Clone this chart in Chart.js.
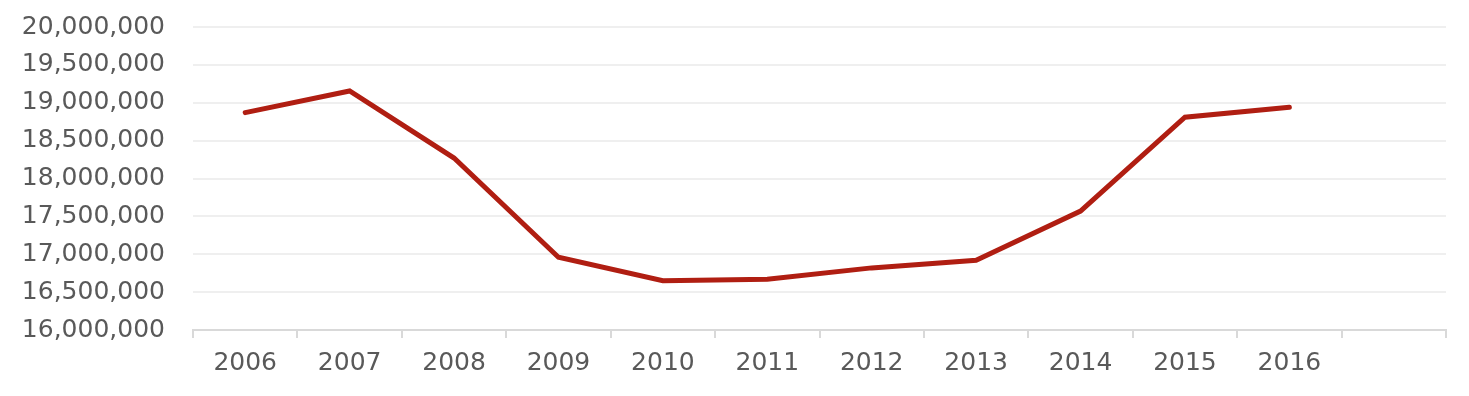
<!DOCTYPE html>
<html>
<head>
<meta charset="utf-8">
<script src="https://cdn.jsdelivr.net/npm/chart.js@4/dist/chart.umd.min.js"></script>
<style>
  html, body { margin: 0; padding: 0; background: #fff; }
  #wrap { width: 1469px; height: 396px; }
</style>
</head>
<body>
<div id="wrap"><canvas id="mycanvas"></canvas></div>
<script>
// years shown on the x axis (last slot stays empty, as in the original)
var years = ['2006', '2007', '2008', '2009', '2010', '2011', '2012', '2013', '2014', '2015', '2016', ''];
var values = [18870000, 19155000, 18270000, 16960000, 16650000, 16670000, 16820000, 16920000, 17570000, 18810000, 18940000];
var yMin = 16000000;
var yMax = 20000000;
var yStep = 500000;

var textColor = '#595959';
var labelFont = { family: 'DejaVu Sans', size: 25 };

var ctx = document.getElementById('mycanvas').getContext('2d');
var chart = new Chart(ctx, {
    type: 'line',
    data: {
        labels: years,
        datasets: [{
            label: 'Total',
            data: values,
            borderColor: '#b01e12',
            borderWidth: 5,
            borderCapStyle: 'round',
            pointRadius: 0,
            tension: 0,
            fill: false
        }]
    },
    options: {
        responsive: true,
        maintainAspectRatio: false,
        animation: false,
        layout: { padding: { left: 0, right: 23, top: 27, bottom: 0 } },
        plugins: { legend: { display: false }, tooltip: { enabled: false } },
        scales: {
            x: {
                offset: true,
                grid: {
                    offset: true,
                    drawOnChartArea: false,
                    color: '#d9d9d9',
                    lineWidth: 2,
                    tickLength: 8
                },
                border: { color: '#d9d9d9', width: 2 },
                ticks: {
                    color: textColor,
                    font: labelFont,
                    padding: 10,
                    maxRotation: 0,
                    autoSkip: false
                },
                afterFit: function(scale) { scale.height = 66; }
            },
            y: {
                min: yMin,
                max: yMax,
                grid: { color: '#efefef', lineWidth: 2, drawTicks: false },
                border: { display: false },
                ticks: {
                    stepSize: yStep,
                    color: textColor,
                    font: labelFont,
                    padding: 28,
                    callback: function(v) { return v.toLocaleString('en-US'); }
                },
                afterFit: function(scale) {
                    // fixed axis width, no extra room above/below the plot
                    scale.width = 193;
                    scale.paddingTop = 0;
                    scale.paddingBottom = 0;
                }
            }
        }
    }
});
</script>
</body>
</html>
